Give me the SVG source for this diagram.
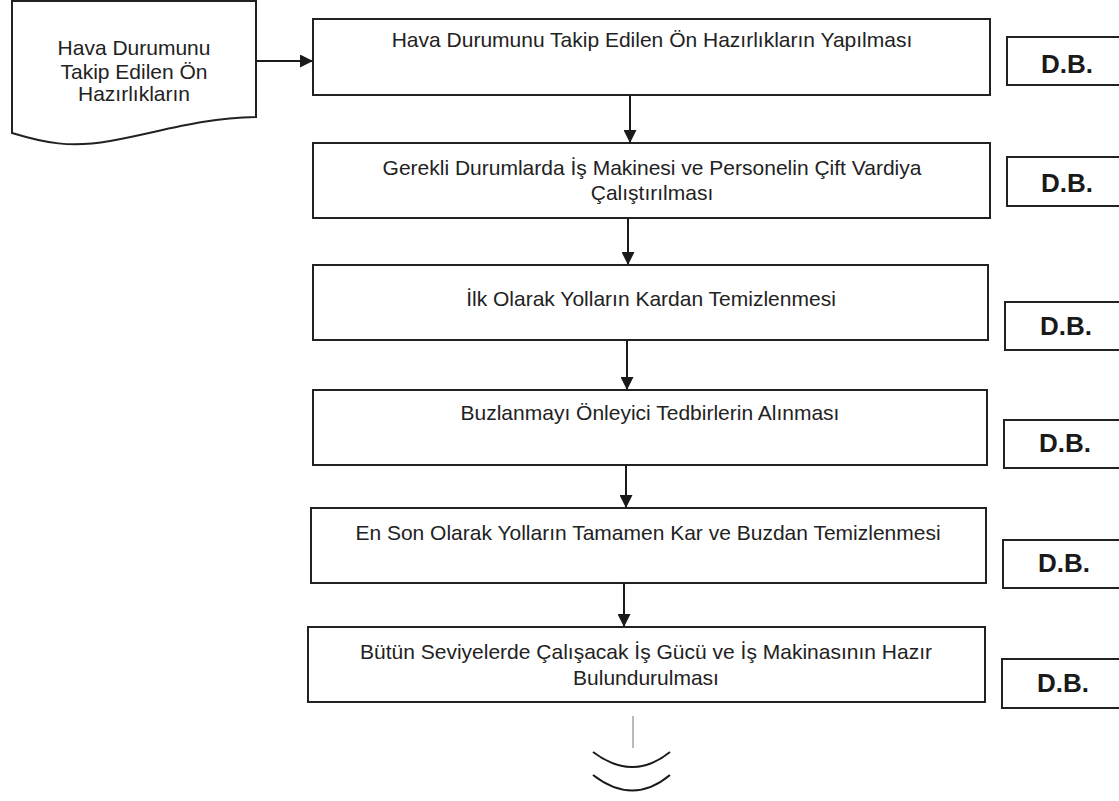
<svg xmlns="http://www.w3.org/2000/svg" width="1119" height="801" viewBox="0 0 1119 801">
<defs>
<marker id="ah" viewBox="0 0 10 10" refX="10" refY="5" markerWidth="13" markerHeight="13" markerUnits="userSpaceOnUse" orient="auto">
<path d="M0,0 L10,5 L0,10 Z" fill="#1a1a1a"/>
</marker>
<style>
.box{fill:#fff;stroke:#222;stroke-width:2}
.t{font-family:"Liberation Sans",Arial,sans-serif;font-size:21px;fill:#222;text-anchor:middle}
.db{font-family:"Liberation Sans",Arial,sans-serif;font-size:26px;font-weight:bold;fill:#1a1a1a;text-anchor:middle}
.c{stroke:#1a1a1a;stroke-width:2;fill:none}
</style>
</defs>
<rect width="1119" height="801" fill="#fff"/>

<g id="doc">
<path class="box" d="M12,1 L256,1 L256,117 C200,118 160,132 110,141 C70,148 45,143 12,133 Z"/>
<text class="t" x="134" y="55">Hava Durumunu</text>
<text class="t" x="134" y="79">Takip Edilen Ön</text>
<text class="t" x="134" y="101">Hazırlıkların</text>
</g>

<g id="n1">
<rect class="box" x="313" y="19" width="677" height="76"/>
<text class="t" x="652" y="47">Hava Durumunu Takip Edilen Ön Hazırlıkların Yapılması</text>
</g>
<g id="db1">
<rect class="box" x="1007" y="37" width="120" height="48"/>
<text class="db" x="1067" y="73">D.B.</text>
</g>

<g id="n2">
<rect class="box" x="313" y="143" width="677" height="75"/>
<text class="t" x="652" y="175">Gerekli Durumlarda İş Makinesi ve Personelin Çift Vardiya</text>
<text class="t" x="652" y="200">Çalıştırılması</text>
</g>
<g id="db2">
<rect class="box" x="1007" y="157" width="120" height="49"/>
<text class="db" x="1067" y="192">D.B.</text>
</g>

<g id="n3">
<rect class="box" x="313" y="265" width="675" height="75"/>
<text class="t" x="651" y="306">İlk Olarak Yolların Kardan Temizlenmesi</text>
</g>
<g id="db3">
<rect class="box" x="1005" y="302" width="122" height="48"/>
<text class="db" x="1066" y="335">D.B.</text>
</g>

<g id="n4">
<rect class="box" x="313" y="390" width="674" height="75"/>
<text class="t" x="650" y="420">Buzlanmayı Önleyici Tedbirlerin Alınması</text>
</g>
<g id="db4">
<rect class="box" x="1004" y="420" width="123" height="48"/>
<text class="db" x="1065" y="452">D.B.</text>
</g>

<g id="n5">
<rect class="box" x="311" y="508" width="675" height="75"/>
<text class="t" x="648" y="540">En Son Olarak Yolların Tamamen Kar ve Buzdan Temizlenmesi</text>
</g>
<g id="db5">
<rect class="box" x="1003" y="540" width="124" height="48"/>
<text class="db" x="1064" y="572">D.B.</text>
</g>

<g id="n6">
<rect class="box" x="308" y="627" width="677" height="75"/>
<text class="t" x="646" y="659">Bütün Seviyelerde Çalışacak İş Gücü ve İş Makinasının Hazır</text>
<text class="t" x="646" y="685">Bulundurulması</text>
</g>
<g id="db6">
<rect class="box" x="1002" y="659" width="125" height="49"/>
<text class="db" x="1063" y="692">D.B.</text>
</g>

<g id="connectors">
<line class="c" x1="256" y1="61" x2="313" y2="61" marker-end="url(#ah)"/>
<line class="c" x1="630" y1="95" x2="630" y2="143" marker-end="url(#ah)"/>
<line class="c" x1="628" y1="218" x2="628" y2="265" marker-end="url(#ah)"/>
<line class="c" x1="627" y1="340" x2="627" y2="390" marker-end="url(#ah)"/>
<line class="c" x1="626" y1="465" x2="626" y2="508" marker-end="url(#ah)"/>
<line class="c" x1="624" y1="583" x2="624" y2="627" marker-end="url(#ah)"/>
<line x1="633" y1="716" x2="633" y2="748" stroke="#777" stroke-width="1"/>
<path class="c" d="M593,752 Q633,782 670,752"/>
<path class="c" d="M593,775 Q633,806 670,775"/>
</g>
</svg>
